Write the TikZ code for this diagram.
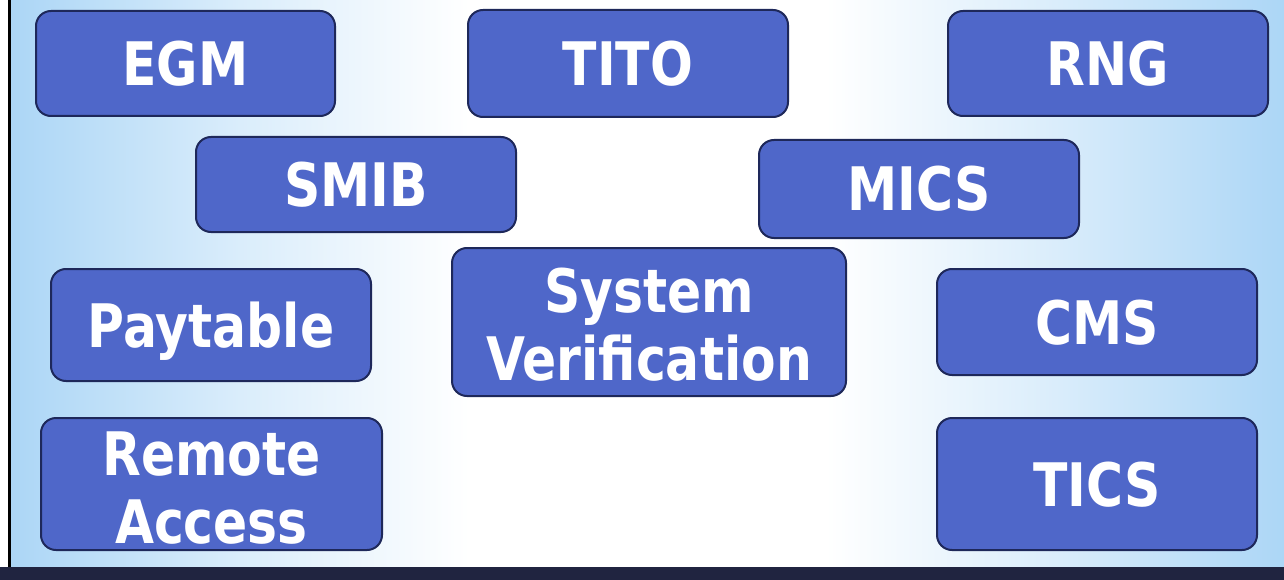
\documentclass[tikz,border=0pt]{standalone}
\usepackage{fontspec}
\newfontfamily\boxfont{DejaVu Sans}[FakeStretch=0.84]
\usetikzlibrary{calc}
\definecolor{boxfill}{RGB}{79,103,201}
\definecolor{boxline}{RGB}{30,40,90}
\definecolor{bgedge}{RGB}{172,214,246}
\definecolor{bglight}{RGB}{218,237,251}
\definecolor{barcol}{RGB}{32,36,64}
\pgfdeclarehorizontalshading{bgsh}{100bp}{color(0bp)=(bgedge); color(25bp)=(bgedge); color(34bp)=(bglight); color(43bp)=(white); color(57bp)=(white); color(66bp)=(bglight); color(75bp)=(bgedge); color(100bp)=(bgedge)}
\tikzset{
  box/.style={draw=boxline, line width=2pt, fill=boxfill, rounded corners=15pt,
    inner sep=0pt, rectangle},
  lbl/.style={text=white, font=\boxfont\bfseries\fontsize{60}{68}\selectfont,
    inner sep=0pt, align=center}
}
\begin{document}
\begin{tikzpicture}[x=1pt,y=-1pt]
\useasboundingbox (0,0) rectangle (1284,580);
\fill[white] (0,0) rectangle (1284,580);
\shade[shading=bgsh] (11,0) rectangle (1284,567);
\fill[white] (0,0) rectangle (8,580);
\fill[black] (8,0) rectangle (11,567);
\fill[barcol] (0,567) rectangle (1284,580);
% boxes
\node[box, minimum width=299pt, minimum height=105pt] (egm) at (185.5,63.5) {};
\node[box, minimum width=320pt, minimum height=107pt] (tito) at (628,63.5) {};
\node[box, minimum width=320pt, minimum height=105pt] (rng) at (1108,63.5) {};
\node[box, minimum width=320pt, minimum height=95pt] (smib) at (356,184.5) {};
\node[box, minimum width=320pt, minimum height=98pt] (mics) at (919,189) {};
\node[box, minimum width=320pt, minimum height=112pt] (payt) at (211,325) {};
\node[box, minimum width=394pt, minimum height=148pt] (sysv) at (649,322) {};
\node[box, minimum width=320pt, minimum height=106pt] (cms) at (1097,322) {};
\node[box, minimum width=341pt, minimum height=132pt] (remo) at (211.5,484) {};
\node[box, minimum width=320pt, minimum height=132pt] (tics) at (1097,484) {};
% labels
\node[lbl, anchor=base] (egmt) at ($(egm.center)+(0,22)$) {EGM};
\node[lbl, anchor=base] (titot) at ($(tito.center)+(0,22)$) {TITO};
\node[lbl, anchor=base] (rngt) at ($(rng.center)+(0,22)$) {RNG};
\node[lbl, anchor=base] (smibt) at ($(smib.center)+(0,22)$) {SMIB};
\node[lbl, anchor=base] (micst) at ($(mics.center)+(0,22)$) {MICS};
\node[lbl, anchor=base] (paytt) at ($(payt.center)+(0,22)$) {Paytable};
\node[lbl, anchor=base] (sysvt) at ($(sysv.center)+(0,58)$) {System\\Verification};
\node[lbl, anchor=base] (cmst) at ($(cms.center)+(0,22)$) {CMS};
\node[lbl, anchor=base] (remot) at ($(remo.center)+(0,59)$) {Remote\\Access};
\node[lbl, anchor=base] (ticst) at ($(tics.center)+(0,22)$) {TICS};
\end{tikzpicture}
\end{document}
